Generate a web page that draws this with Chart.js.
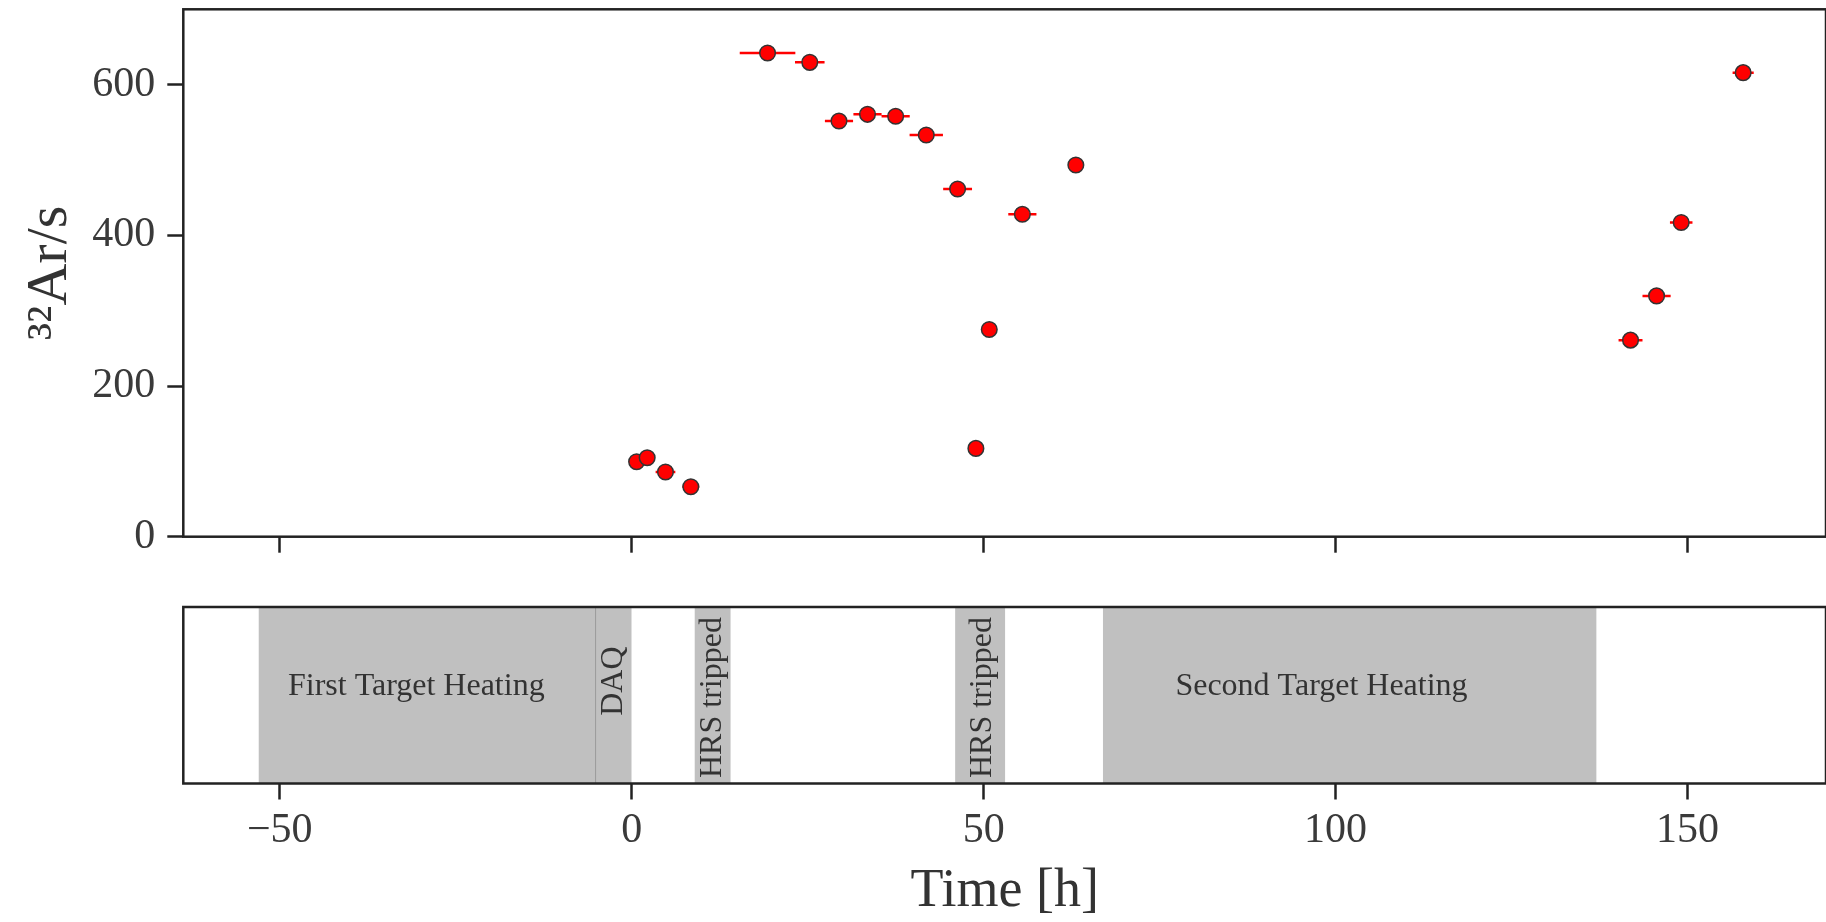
<!DOCTYPE html>
<html>
<head>
<meta charset="utf-8">
<script src="https://cdn.jsdelivr.net/npm/chart.js@4.4.1/dist/chart.umd.min.js"></script>
<style>
  html, body { margin: 0; padding: 0; background: #fff; }
  #wrap { position: relative; width: 1826px; height: 922px; }
  #rateChart { position: absolute; left: 0; top: 0; }
  #runChart { position: absolute; left: 0; top: 560px; }
</style>
</head>
<body>
<div id="wrap">
  <canvas id="rateChart" width="1826" height="560"></canvas>
  <canvas id="runChart" width="1826" height="362"></canvas>
</div>
<script>
// 32Ar rate per run, time in hours since start of data taking
var timeH   = [0.7, 2.2, 4.8, 8.4, 19.3, 25.3, 29.45, 33.5, 37.5, 41.85, 46.3, 48.9, 50.8, 55.5, 63.1, 141.9, 145.6, 149.1, 157.9];
var timeErr = [0.5, 0.5, 1.4, 1.2, 3.95, 2.1, 2.0, 2.0, 2.0, 2.37, 2.05, 0.5, 0.5, 2.0, 0.5, 1.7, 2.0, 1.6, 1.5];
var rate    = [99.5, 104.8, 85.8, 66.3, 641.9, 629.6, 551.7, 560.6, 558, 533.2, 461.5, 117.2, 275, 428, 493.4, 260.9, 319.6, 417, 615.9];

// periods without beam on target
var bandStart     = [-53, -5, 9, 46, 67];
var bandEnd       = [-5, 0, 14, 53, 137];
var bandLabel     = ["First Target Heating", "DAQ", "HRS tripped", "HRS tripped", "Second Target Heating"];
var bandLabelTime = [-30.6, -2.55, 11.5, 49.8, 98];
var bandVertical  = [false, true, true, true, false];

var xTicks = [-50, 0, 50, 100, 150];
var yTicks = [0, 200, 400, 600];

var X_MIN = -63.7, X_MAX = 169.67;
var SERIF = "'Liberation Serif', 'DejaVu Serif', serif";
var INK = '#222';
// vertical placement of the band labels, as a fraction of the strip height
var labelRow = [0.453, 0.42, 0.513, 0.513, 0.453];

function fmtTick(v) {
  return v < 0 ? '\u2212' + Math.abs(v) : String(v);
}

// no extra room for tick labels overhanging the plot edges
function noOverhang(s) {
  s.paddingTop = 0;
  s.paddingBottom = 0;
  s.paddingLeft = 0;
  s.paddingRight = 0;
}

function xAxis(showLabels, height) {
  return {
    type: 'linear',
    min: X_MIN,
    max: X_MAX,
    afterBuildTicks: function (s) { s.ticks = xTicks.map(function (v) { return { value: v }; }); },
    afterFit: function (s) { s.height = height; noOverhang(s); },
    grid: { drawOnChartArea: false, tickLength: 16, tickWidth: 2.5, tickColor: INK },
    border: { display: false },
    ticks: {
      display: showLabels, maxRotation: 0, autoSkip: false, padding: 6,
      color: '#3a3a3a', font: { family: SERIF, size: 42 }, callback: fmtTick
    }
  };
}

var frame = {
  id: 'frame',
  afterDatasetsDraw: function (chart) {
    var a = chart.chartArea, ctx = chart.ctx;
    ctx.save();
    ctx.strokeStyle = INK;
    ctx.lineWidth = 2.5;
    ctx.strokeRect(a.left, a.top, a.right - a.left, a.bottom - a.top);
    ctx.restore();
  }
};

// horizontal error bars drawn under the markers
var errorBars = {
  id: 'errorBars',
  beforeDatasetsDraw: function (chart) {
    var x = chart.scales.x, y = chart.scales.y, ctx = chart.ctx;
    ctx.save();
    ctx.strokeStyle = '#ff0000';
    ctx.lineWidth = 2.5;
    ctx.beginPath();
    for (var i = 0; i < timeH.length; i++) {
      var py = y.getPixelForValue(rate[i]);
      ctx.moveTo(x.getPixelForValue(timeH[i] - timeErr[i]), py);
      ctx.lineTo(x.getPixelForValue(timeH[i] + timeErr[i]), py);
    }
    ctx.stroke();
    ctx.restore();
  }
};

var bandLabels = {
  id: 'bandLabels',
  afterDatasetsDraw: function (chart) {
    var a = chart.chartArea, x = chart.scales.x, ctx = chart.ctx;
    ctx.save();
    ctx.fillStyle = '#333';
    ctx.font = '32px ' + SERIF;
    ctx.textAlign = 'center';
    ctx.textBaseline = 'middle';
    for (var i = 0; i < bandLabel.length; i++) {
      var px = x.getPixelForValue(bandLabelTime[i]);
      var py = a.top + labelRow[i] * (a.bottom - a.top);
      ctx.save();
      ctx.translate(px, py);
      if (bandVertical[i]) ctx.rotate(-Math.PI / 2);
      ctx.fillText(bandLabel[i], 0, 0);
      ctx.restore();
    }
    ctx.restore();
  }
};

new Chart(document.getElementById('rateChart'), {
  type: 'scatter',
  data: {
    datasets: [{
      data: timeH.map(function (t, i) { return { x: t, y: rate[i] }; }),
      pointRadius: 7.8,
      pointBackgroundColor: '#ff0000',
      pointBorderColor: '#333',
      pointBorderWidth: 1.5
    }]
  },
  options: {
    responsive: false,
    animation: false,
    layout: { autoPadding: false, padding: { top: 9.3, right: 0, left: 0, bottom: 0 } },
    plugins: { legend: { display: false }, tooltip: { enabled: false } },
    scales: {
      x: xAxis(false, 23.3),
      y: {
        min: 0,
        max: 700,
        afterBuildTicks: function (s) { s.ticks = yTicks.map(function (v) { return { value: v }; }); },
        afterFit: function (s) { s.width = 183.3; noOverhang(s); },
        grid: { drawOnChartArea: false, tickLength: 16, tickWidth: 2.5, tickColor: INK },
        border: { display: false },
        ticks: { padding: 12, color: '#3a3a3a', font: { family: SERIF, size: 42 } },
        title: {
          display: true, text: '\u00B3\u00B2Ar/s', color: '#333',
          font: { family: SERIF, size: 58, lineHeight: 1 },
          padding: { top: 22, bottom: 0 }
        }
      }
    }
  },
  plugins: [errorBars, frame]
});

new Chart(document.getElementById('runChart'), {
  type: 'bar',
  data: {
    labels: ['band'],
    datasets: [{
      data: bandStart.map(function (s, i) { return { x: [s, bandEnd[i]], y: 'band' }; }),
      backgroundColor: '#c0c0c0',
      borderColor: '#8c8c8c',
      borderSkipped: false,
      borderWidth: function (c) {
        var i = c.dataIndex;
        return bandEnd[i] === bandStart[i + 1] ? { right: 1.5 } : 0;
      },
      barPercentage: 1,
      categoryPercentage: 1
    }]
  },
  options: {
    indexAxis: 'y',
    responsive: false,
    animation: false,
    layout: { autoPadding: false, padding: { top: 47, right: 0, left: 183.3, bottom: 0 } },
    plugins: { legend: { display: false }, tooltip: { enabled: false } },
    scales: {
      x: Object.assign(xAxis(true, 138.5), {
        title: {
          display: true, text: 'Time [h]', color: '#333',
          font: { family: SERIF, size: 54, lineHeight: 1 },
          padding: { top: 0, bottom: 3 }
        }
      }),
      y: { type: 'category', display: false }
    }
  },
  plugins: [bandLabels, frame]
});
</script>
</body>
</html>
